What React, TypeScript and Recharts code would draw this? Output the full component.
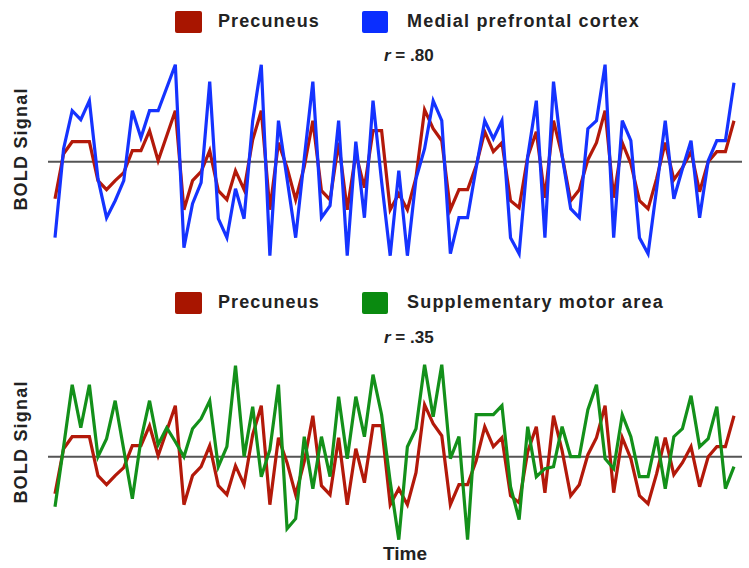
import React from 'react';
import { LineChart, Line, XAxis, YAxis, ReferenceLine } from 'recharts';

// Signal values (arbitrary BOLD units, 80 time points)
const precuneus = [
  -37, 8, 20, 20, 20, -19, -28, -19, -11, 11,
  11, 31, 1, 26, 51, -48, -19, -10, 11, -29,
  -38, -9, -28, 22, 51, -48, 19, -6, -38, -5,
  41, -29, -38, 19, -48, 8, -26, 31, 31, -48,
  -32, -48, -16, 52, 33, 21, -48, -28, -28, -4,
  30, 10, 19, -39, -46, 5, 30, -36, 41, 6,
  -39, -28, 2, 19, 51, -36, 19, -2, -39, -47,
  -17, 19, -18, -6, 10, -30, 0, 10, 10, 41,
];

const medialPrefrontal = [
  -76, 13, 51, 42, 61, -17, -56, -39, -19, 51,
  24, 51, 51, 74, 97, -86, -42, -21, 80, -57,
  -76, -27, -57, 41, 97, -94, 41, -17, -76, 3,
  80, -56, -44, 41, -94, 20, -56, 61, -20, -94,
  -9, -94, -17, 13, 61, 41, -92, -56, -56, -6,
  41, 23, 41, -76, -92, 5, 61, -76, 80, 6,
  -47, -56, 33, 41, 97, -76, 41, 21, -76, -92,
  -27, 41, -37, -7, 21, -56, 1, 21, 21, 79,
];

const supplementaryMotor = [
  -50, 10, 72, 29, 72, 0, 18, 56, 7, -42,
  17, 56, 12, 29, 15, 0, 28, 38, 56, -10,
  10, 91, 0, 50, -20, 7, 72, -72, -62, 20,
  -32, 20, -20, 60, -2, 60, 20, 82, 42, -25,
  -83, 10, 28, 92, 40, 92, -2, 20, -83, 42,
  42, 42, 51, -30, -63, 30, -20, -12, -10, 30,
  0, 0, 47, 72, -2, -12, 42, 20, -20, -20,
  20, -32, 20, 28, 61, 10, 18, 50, -32, -10,
];

const r1 = '.80';
const r2 = '.35';

const RED = '#b3190a';
const BLUE = '#1533ff';
const GREEN = '#13901a';

const topData = precuneus.map((v, i) => ({ t: i, precuneus: v, mpfc: medialPrefrontal[i] }));
const bottomData = precuneus.map((v, i) => ({ t: i, precuneus: v, sma: supplementaryMotor[i] }));

const font = '"Liberation Sans", Arial, sans-serif';

const LegendRow = ({ top, second, color2 }: { top: number; second: string; color2: string }) => (
  <>
    <div style={{ position: 'absolute', left: 175, top, width: 27, height: 22, background: '#a81500', borderRadius: 2 }} />
    <div style={{ position: 'absolute', left: 218, top: top - 1, fontSize: 18, fontWeight: 700, letterSpacing: 1.1, color: '#222', lineHeight: '22px' }}>
      Precuneus
    </div>
    <div style={{ position: 'absolute', left: 362, top, width: 26, height: 22, background: color2, borderRadius: 2 }} />
    <div style={{ position: 'absolute', left: 407, top: top - 1, fontSize: 18, fontWeight: 700, letterSpacing: 1.2, color: '#222', lineHeight: '22px', whiteSpace: 'nowrap' }}>
      {second}
    </div>
  </>
);

const RLabel = ({ top, value }: { top: number; value: string }) => (
  <div style={{ position: 'absolute', left: 384, top, fontSize: 17, fontWeight: 700, color: '#222', lineHeight: '20px' }}>
    <i>r</i> = {value}
  </div>
);

const YLabel = ({ center }: { center: number }) => (
  <div style={{ position: 'absolute', left: 21, top: center, width: 0, height: 0 }}>
    <div style={{ position: 'absolute', transform: 'translate(-50%, -50%) rotate(-90deg)', fontSize: 18, fontWeight: 700, letterSpacing: 1.2, color: '#222', whiteSpace: 'nowrap' }}>
      BOLD Signal
    </div>
  </div>
);

const Panel = ({ data, second, color }: { data: any[]; second: string; color: string }) => (
  <LineChart width={749} height={273} data={data} margin={{ top: 30, right: 7, bottom: 0, left: 48 }}>
    <XAxis dataKey="t" hide padding={{ left: 7, right: 8 }} />
    <YAxis
      width={0}
      domain={[-110.3, 132.7]}
      tick={false}
      tickLine={false}
      axisLine={{ stroke: '#7a7a7a', strokeWidth: 2.5 }}
    />
    <ReferenceLine y={0} stroke="#555" strokeWidth={2} />
    <Line type="linear" dataKey="precuneus" stroke={RED} strokeWidth={3.2} dot={false} isAnimationActive={false} />
    <Line type="linear" dataKey={second} stroke={color} strokeWidth={3.2} dot={false} isAnimationActive={false} />
  </LineChart>
);

export default function App() {
  return (
    <div style={{ position: 'absolute', left: 0, top: 0, width: 749, height: 568, background: '#fff', fontFamily: font, overflow: 'hidden' }}>
      <div style={{ position: 'absolute', left: 0, top: -1 }}>
        <Panel data={topData} second="mpfc" color={BLUE} />
      </div>
      <div style={{ position: 'absolute', left: 0, top: 294 }}>
        <Panel data={bottomData} second="sma" color={GREEN} />
      </div>
      <LegendRow top={11} second="Medial prefrontal cortex" color2="#0a2eff" />
      <LegendRow top={292} second="Supplementary motor area" color2="#0a8a10" />
      <RLabel top={46} value={r1} />
      <RLabel top={328} value={r2} />
      <YLabel center={149} />
      <YLabel center={442} />
      <div style={{ position: 'absolute', left: 383, top: 542, fontSize: 19, fontWeight: 700, color: '#222', lineHeight: '24px' }}>
        Time
      </div>
    </div>
  );
}
